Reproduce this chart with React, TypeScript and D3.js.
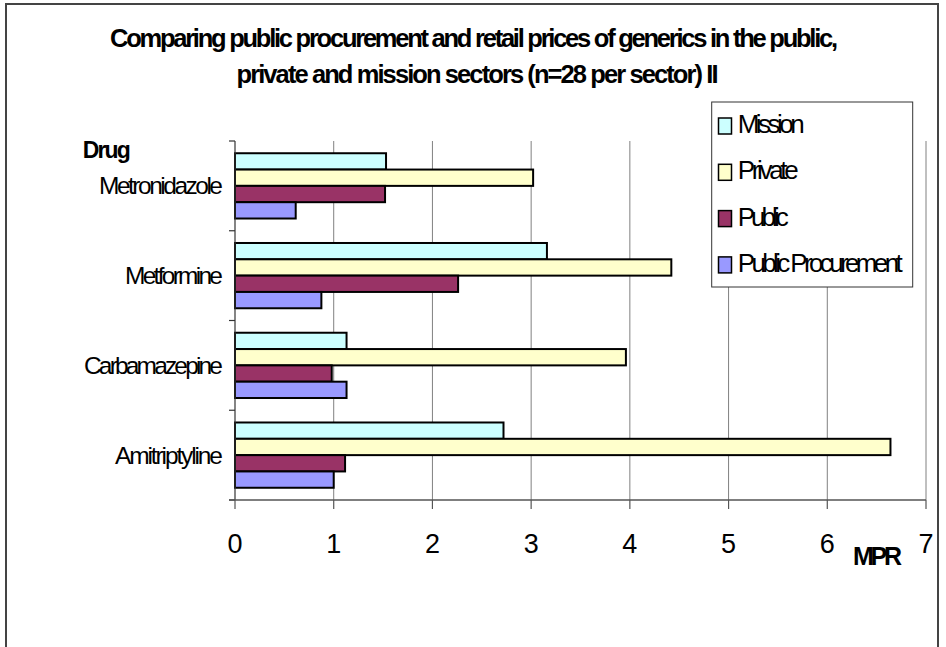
import React from "react";
import * as d3 from "d3";

const categories = ["Metronidazole", "Metformine", "Carbamazepine", "Amitriptyline"];
const seriesNames = ["Mission", "Private", "Public", "Public Procurement"];
const mission = [1.53, 3.16, 1.13, 2.72];
const privateVals = [3.02, 4.42, 3.96, 6.64];
const publicVals = [1.52, 2.26, 0.98, 1.115];
const procurement = [0.615, 0.875, 1.13, 1.0];
const xTicks = [0, 1, 2, 3, 4, 5, 6, 7];
const titleLines = [
  "Comparing public procurement and retail prices of generics in the public,",
  "private and mission sectors (n=28 per sector) II",
];
const colors = ["#CCFFFF", "#FFFFCC", "#993366", "#9999FF"];

const catLabelWidths: Record<string, number> = {
  Metronidazole: 124,
  Metformine: 98,
  Carbamazepine: 139,
  Amitriptyline: 108,
};
const legendWidths = [67, 61, 51, 165];

export default function App() {
  const W = 946;
  const H = 647;
  const left = 235;
  const right = 926;
  const top = 141;
  const bottom = 500;
  const font = "'Liberation Sans', Arial, sans-serif";

  const x = d3.scaleLinear().domain([0, 7]).range([left, right]);
  const y = d3.scaleBand<string>().domain(categories).range([top, bottom]).padding(0);
  const inner = d3
    .scaleBand<string>()
    .domain(seriesNames)
    .range([0, y.bandwidth()])
    .paddingInner(0)
    .paddingOuter(0.75);
  const data = [mission, privateVals, publicVals, procurement];

  const boundaries = categories.map((c) => y(c) as number).concat([bottom]);

  return (
    <svg
      width={W}
      height={H}
      style={{ position: "absolute", left: 0, top: 0, background: "#fff" }}
      fontFamily={font}
    >
      <rect x={0} y={0} width={W} height={H} fill="#fff" />
      {/* outer frame */}
      <rect x={6} y={4} width={932} height={700} fill="none" stroke="#444" strokeWidth={2} />

      {/* title */}
      <text x={474} y={47} textAnchor="middle" fontWeight="bold" fontSize={25.5} textLength={728} lengthAdjust="spacing">
        {titleLines[0]}
      </text>
      <text x={477.5} y={83} textAnchor="middle" fontWeight="bold" fontSize={25.5} textLength={482} lengthAdjust="spacing">
        {titleLines[1]}
      </text>

      {/* gridlines */}
      {xTicks.filter((t) => t > 0).map((t) => (
        <line key={"g" + t} x1={x(t)} x2={x(t)} y1={top} y2={bottom} stroke="#808080" strokeWidth={1} />
      ))}

      {/* bars */}
      {categories.map((c, ci) =>
        seriesNames.map((s, si) => {
          const y0 = (y(c) as number) + (inner(s) as number);
          return (
            <rect
              key={c + s}
              x={x(0)}
              y={y0}
              width={x(data[si][ci]) - x(0)}
              height={inner.bandwidth()}
              fill={colors[si]}
              stroke="#000"
              strokeWidth={2}
            />
          );
        })
      )}

      {/* axes */}
      <line x1={left} x2={left} y1={top} y2={bottom} stroke="#333" strokeWidth={1.2} />
      {boundaries.map((b, i) => (
        <line key={"yt" + i} x1={left - 6} x2={left} y1={b} y2={b} stroke="#333" strokeWidth={1.2} />
      ))}
      <line x1={left - 6} x2={right} y1={bottom} y2={bottom} stroke="#555" strokeWidth={1.5} />
      {xTicks.map((t) => (
        <g key={"xt" + t}>
          <line x1={x(t)} x2={x(t)} y1={bottom} y2={bottom + 9} stroke="#555" strokeWidth={1.2} />
          <text x={x(t)} y={553} textAnchor="middle" fontSize={27}>
            {t}
          </text>
        </g>
      ))}

      {/* category labels */}
      {categories.map((c) => (
        <text
          key={"cl" + c}
          x={223}
          y={(y(c) as number) + y.bandwidth() / 2 + 8.5}
          textAnchor="end"
          fontSize={24.5}
          textLength={catLabelWidths[c]}
          lengthAdjust="spacing"
        >
          {c}
        </text>
      ))}
      <text x={82.7} y={158} fontWeight="bold" fontSize={23} textLength={48} lengthAdjust="spacing">
        Drug
      </text>
      <text x={853} y={565} fontWeight="bold" fontSize={25} textLength={49} lengthAdjust="spacing">
        MPR
      </text>

      {/* legend */}
      <rect x={711.7} y={102} width={201} height={185} fill="#fff" stroke="#333" strokeWidth={1} />
      {seriesNames.map((s, i) => {
        const base = 133 + i * 46.3;
        return (
          <g key={"lg" + s}>
            <rect x={718.5} y={base - 15} width={13} height={16} fill={colors[i]} stroke="#000" strokeWidth={1.5} />
            <text x={737.7} y={base} fontSize={26} textLength={legendWidths[i]} lengthAdjust="spacing">
              {s}
            </text>
          </g>
        );
      })}
    </svg>
  );
}
